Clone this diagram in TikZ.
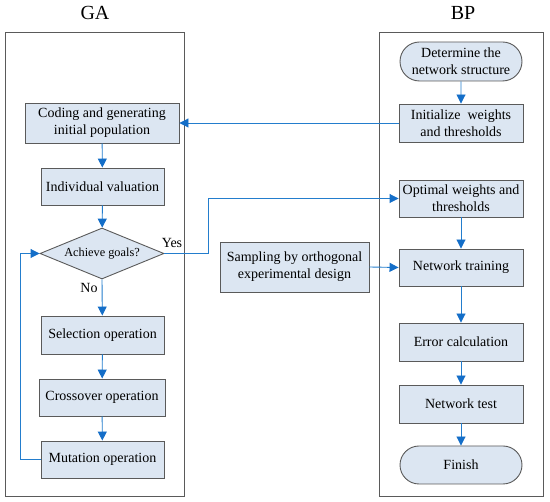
\documentclass[tikz,border=0pt]{standalone}
\usepackage{fontspec}
\setmainfont{Liberation Serif}
\usetikzlibrary{arrows.meta,shapes.geometric,shapes.misc}
\definecolor{boxfill}{RGB}{220,230,242}
\definecolor{boxline}{RGB}{90,90,90}
\definecolor{lineblue}{RGB}{35,125,205}
\definecolor{headblue}{RGB}{20,110,200}
\tikzset{
  stepbox/.style={draw=boxline, fill=boxfill, line width=0.9pt, rectangle, inner sep=1pt,
    align=center, font=\fontsize{14}{16.8}\selectfont},
  termbox/.style={stepbox, rounded rectangle},
  decbox/.style={draw=boxline, fill=boxfill, line width=0.9pt, diamond, aspect=2.4, inner sep=0pt,
    font=\fontsize{12.3}{14}\selectfont},
  frame/.style={draw=boxline, line width=0.9pt},
  arr/.style={draw=lineblue, line width=0.9pt, -{Triangle[length=9pt,width=9pt,color=headblue]}},
  title/.style={font=\fontsize{20}{22}\selectfont},
  lbl/.style={font=\fontsize{14}{15}\selectfont, inner sep=0pt}
}
\begin{document}
\begin{tikzpicture}[x=1pt,y=-1pt]
\useasboundingbox (0,0) rectangle (550,502);
% frames
\draw[frame] (5,32) rectangle (184,496);
\draw[frame] (379,32) rectangle (543,496);
\node[title] (ga) at (95,13) {GA};
\node[title] (bp) at (463,13) {BP};
% GA nodes
\node[stepbox, minimum width=154pt, minimum height=40pt] (coding) at (102,123) {Coding and generating\\initial population};
\node[stepbox, minimum width=123pt, minimum height=37pt] (indiv) at (102.5,186.5) {Individual valuation};
\node[decbox, minimum width=124pt, minimum height=51pt] (dia) at (102,253.5) {Achieve goals?};
\node[stepbox, minimum width=123pt, minimum height=38pt] (sel) at (102.5,335) {Selection operation};
\node[stepbox, minimum width=126pt, minimum height=37pt] (cross) at (102,397.5) {Crossover operation};
\node[stepbox, minimum width=123pt, minimum height=37pt] (mut) at (102.5,459.5) {Mutation operation};
% BP nodes
\node[termbox, minimum width=124pt, minimum height=39pt] (det) at (461,61.5) {Determine the\\network structure};
\node[stepbox, minimum width=124pt, minimum height=38pt] (init) at (461,123) {Initialize\ \ weights\\and thresholds};
\node[stepbox, minimum width=124pt, minimum height=37pt] (opt) at (461,198.5) {Optimal weights and\\thresholds};
\node[stepbox, minimum width=124pt, minimum height=37pt] (train) at (461,267.5) {Network training};
\node[stepbox, minimum width=124pt, minimum height=38pt] (err) at (461,342) {Error calculation};
\node[stepbox, minimum width=124pt, minimum height=38pt] (test) at (461,404) {Network test};
\node[termbox, minimum width=124pt, minimum height=38pt] (fin) at (461,465) {Finish};
\node[stepbox, minimum width=149pt, minimum height=50pt] (samp) at (294.5,267) {Sampling by orthogonal\\experimental design};
% labels
\node[lbl] (yes) at (172,243) {Yes};
\node[lbl] (no) at (89,288) {No};
% coordinates
\coordinate (fb) at (20,459.5);
\coordinate (yc) at (208,198.5);
% connectors
\draw[arr] (det) -- (init);
\draw[arr] (init.west) -- (coding.east);
\draw[arr] (coding) -- (indiv);
\draw[arr] (indiv) -- (dia);
\draw[arr] (dia.south) -- (sel);
\draw[arr] (sel) -- (cross);
\draw[arr] (cross) -- (mut);
\draw[arr] (mut.west) -- (fb) |- (dia.west);
\draw[arr] (dia.east) -| (yc) -- (opt.west);
\draw[arr] (samp.east) -- (train.west);
\draw[arr] (opt) -- (train);
\draw[arr] (train) -- (err);
\draw[arr] (err) -- (test);
\draw[arr] (test) -- (fin);
\end{tikzpicture}
\end{document}
